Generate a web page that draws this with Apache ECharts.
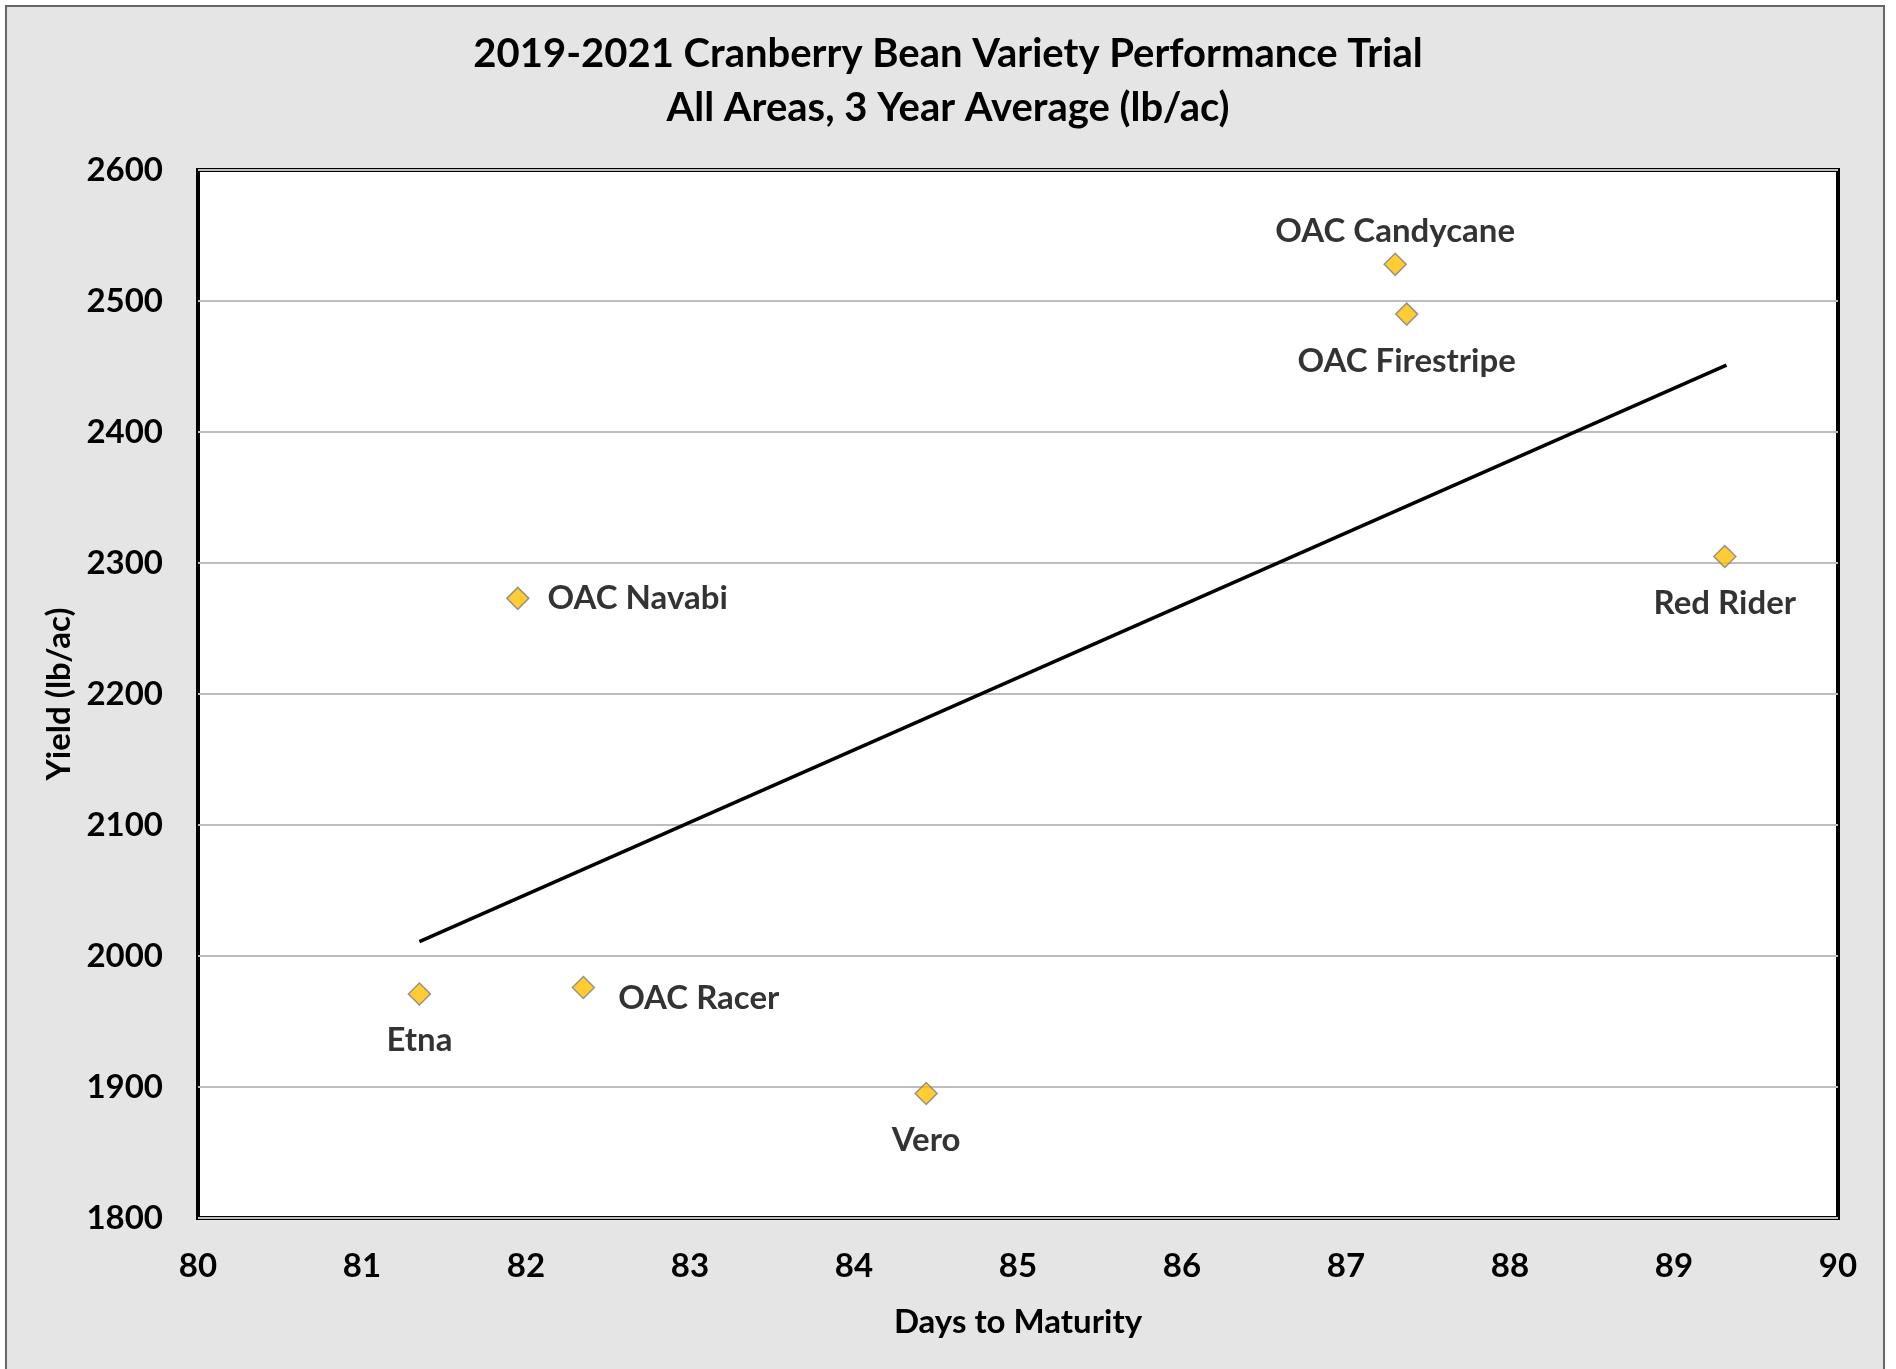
<!DOCTYPE html>
<html>
<head>
<meta charset="utf-8">
<title>Cranberry Bean Variety Performance Trial</title>
<script src="https://cdn.jsdelivr.net/npm/echarts@6/dist/echarts.min.js"></script>
<style>
    html, body { margin: 0; padding: 0; background: #fff; }
    #chart { width: 1896px; height: 1369px; }
</style>
</head>
<body>
<div id="chart"></div>
<script>
// values
var varieties = ['OAC Candycane', 'OAC Firestripe', 'Red Rider', 'OAC Navabi', 'Etna', 'OAC Racer', 'Vero'];
var daysToMaturity = [87.30, 87.37, 89.31, 81.95, 81.35, 82.35, 84.44];
var yieldLbAc = [2528, 2490, 2305, 2273, 1971, 1976, 1895];
// trend line end points (as drawn in the reference)
var trendDays = [81.35, 89.32];
var trendYield = [2011, 2451];

var font = 'Lato';

// where each point's label sits
var labelSide = {
    'OAC Candycane': { position: 'top', distance: 5 },
    'OAC Firestripe': { position: 'bottom', distance: 19 },
    'Red Rider': { position: 'bottom', distance: 19 },
    'OAC Navabi': { position: 'right', distance: 18 },
    'Etna': { position: 'bottom', distance: 18 },
    'OAC Racer': { position: 'right', distance: 23, offset: [0, 11] },
    'Vero': { position: 'bottom', distance: 19 }
};

var points = varieties.map(function (name, i) {
    var side = labelSide[name];
    return {
        name: name,
        value: [daysToMaturity[i], yieldLbAc[i]],
        label: {
            position: side.position,
            distance: side.distance,
            offset: side.offset || [0, 0]
        }
    };
});

var trend = trendDays.map(function (d, i) { return [d, trendYield[i]]; });

var myChart = echarts.init(document.getElementById('chart'));
var option = {
    backgroundColor: '#fff',
    animation: false,
    graphic: [{
        type: 'rect',
        z: -10,
        shape: { x: 6, y: 6, width: 1878, height: 1380 },
        style: { fill: '#e5e5e5', stroke: '#666', lineWidth: 2 }
    }],
    title: {
        text: '2019-2021 Cranberry Bean Variety Performance Trial\nAll Areas, 3 Year Average (lb/ac)',
        left: 'center',
        top: 22,
        textStyle: {
            fontFamily: font,
            fontWeight: 'bold',
            fontSize: 40,
            lineHeight: 54,
            color: '#000'
        }
    },
    grid: {
        left: 198,
        top: 170,
        width: 1640,
        height: 1048,
        show: true,
        backgroundColor: '#fff',
        borderColor: '#000',
        borderWidth: 4
    },
    xAxis: {
        type: 'value',
        min: 80,
        max: 90,
        interval: 1,
        name: 'Days to Maturity',
        nameLocation: 'middle',
        nameGap: 88,
        nameTextStyle: { fontFamily: font, fontWeight: 'bold', fontSize: 33, color: '#000' },
        axisLine: { show: false },
        axisTick: { show: false },
        splitLine: { show: false },
        axisLabel: { fontFamily: font, fontWeight: 'bold', fontSize: 33, color: '#000', margin: 32 }
    },
    yAxis: {
        type: 'value',
        min: 1800,
        max: 2600,
        interval: 100,
        name: 'Yield (lb/ac)',
        nameLocation: 'middle',
        nameGap: 120,
        nameTextStyle: { fontFamily: font, fontWeight: 'bold', fontSize: 33, color: '#000' },
        axisLine: { show: false },
        axisTick: { show: false },
        splitLine: { show: true, lineStyle: { color: '#bdbdbd', width: 2 } },
        axisLabel: {
            fontFamily: font, fontWeight: 'bold', fontSize: 33, color: '#000', margin: 35,
            formatter: function (v) { return String(v); }
        }
    },
    series: [
        {
            type: 'line',
            data: trend,
            symbol: 'none',
            lineStyle: { color: '#000', width: 3.5 },
            silent: true,
            z: 2
        },
        {
            type: 'scatter',
            data: points,
            symbol: 'diamond',
            symbolSize: 22,
            itemStyle: { color: '#ffc000', borderColor: '#808080', borderWidth: 1.5 },
            label: {
                show: true,
                formatter: '{b}',
                fontFamily: font,
                fontWeight: 'bold',
                fontSize: 33,
                color: '#000'
            },
            z: 3
        }
    ]
};
myChart.setOption(option);
</script>
</body>
</html>
